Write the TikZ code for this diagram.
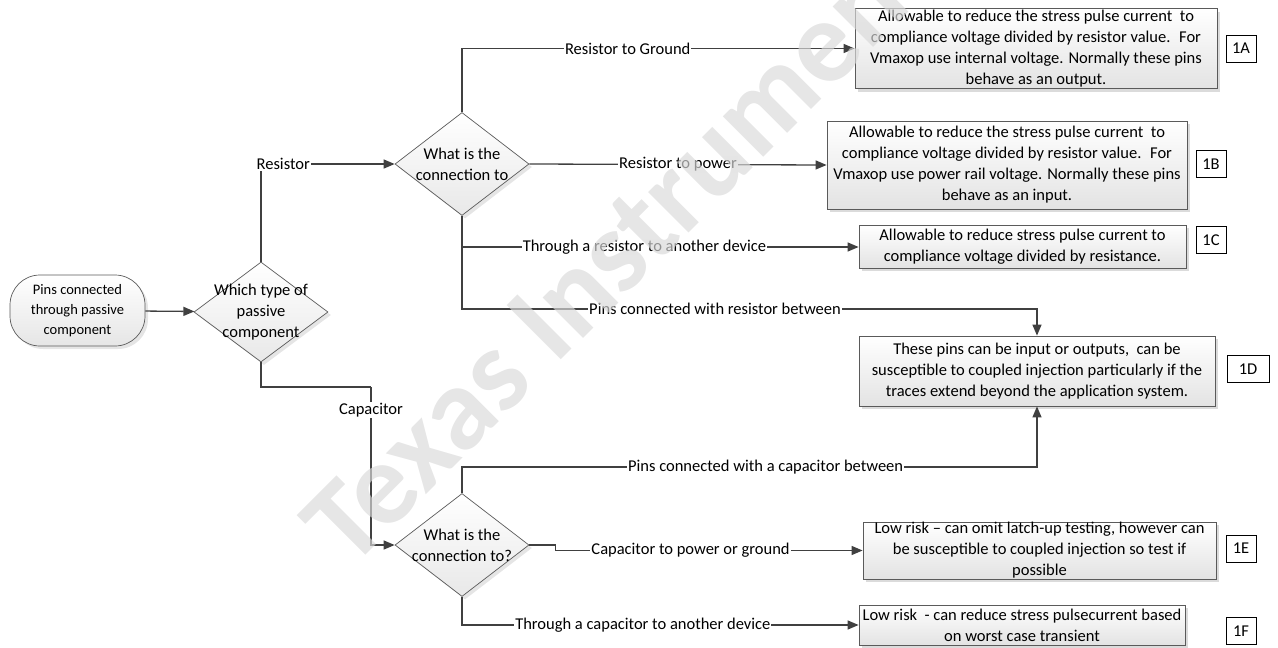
\documentclass[tikz,border=0pt]{standalone}
\usepackage{fontspec}
\setmainfont{Carlito}
\usepackage{tikz}
\usetikzlibrary{arrows.meta, positioning, shapes.geometric, shadows, calc}
\definecolor{linegray}{HTML}{404040}
\definecolor{edgegray}{HTML}{5A5A5A}

\begin{document}
\begin{tikzpicture}[x=1pt, y=-1pt,
    every node/.style={font=\fontsize{16.5}{21}\selectfont},
    note/.style={draw=edgegray, line width=0.8pt, top color=white, bottom color=black!11,
                 drop shadow={shadow xshift=3pt, shadow yshift=-3pt, fill=black!28},
                 align=center, inner sep=0pt},
    decide/.style={diamond, draw=edgegray, line width=0.7pt, top color=white, bottom color=black!9,
                 drop shadow={shadow xshift=3pt, shadow yshift=-3pt, fill=black!20},
                 inner sep=0pt, minimum width=134pt, minimum height=103pt},
    tag/.style={draw=black, line width=0.7pt, minimum width=30pt, minimum height=27pt, inner sep=0pt},
    arr/.style={draw=linegray, line width=1.3pt, -{Triangle[length=11pt, width=9pt]}},
    wire/.style={draw=linegray, line width=1.3pt},
    lab/.style={fill=white, inner sep=1pt},
]
    \useasboundingbox (0,0) rectangle (1278,648);

    % start and decisions
    \node[draw=edgegray, line width=0.7pt, rounded corners=30pt, top color=white, bottom color=black!10,
          drop shadow={shadow xshift=3pt, shadow yshift=-3pt, fill=black!20},
          minimum width=135pt, minimum height=71pt, align=center, inner sep=0pt,
          font=\fontsize{14.5}{20}\selectfont] (start) at (77.5, 310.5)
          {Pins connected\\through passive\\component};
    \node[decide, minimum height=100pt,
          label={[align=center, inner sep=0pt]center:Which type of\\passive\\component}] (d1) at (261, 312) {};
    \node[decide, label={[align=center, inner sep=0pt]center:What is the\\connection to}] (d2) at (462, 164) {};
    \node[decide, label={[align=center, inner sep=0pt]center:What is the\\connection to?}] (d3) at (462, 545) {};

    % outcome boxes
    \node[note, minimum width=362pt, minimum height=80pt] (b1A) at (1036, 48.5)
        {Allowable to reduce the stress pulse current \ to\\compliance voltage divided by resistor value. \ For\\Vmaxop use internal voltage. Normally these pins\\behave as an output.};
    \node[note, minimum width=360pt, minimum height=88pt] (b1B) at (1007, 165)
        {Allowable to reduce the stress pulse current \ to\\compliance voltage divided by resistor value. \ For\\Vmaxop use power rail voltage. Normally these pins\\behave as an input.};
    \node[note, minimum width=327pt, minimum height=43pt] (b1C) at (1022.5, 246.5)
        {Allowable to reduce stress pulse current to\\compliance voltage divided by resistance.};
    \node[note, minimum width=356pt, minimum height=70pt] (b1D) at (1037, 371)
        {These pins can be input or outputs, \ can be\\susceptible to coupled injection particularly if the\\traces extend beyond the application system.};
    \node[note, minimum width=353pt, minimum height=57pt] (b1E) at (1039.5, 550.5)
        {Low risk – can omit latch-up testing, however can\\be susceptible to coupled injection so test if\\possible};
    \node[note, minimum width=326pt, minimum height=40pt] (b1F) at (1022, 625)
        {Low risk \ - can reduce stress pulsecurrent based\\on worst case transient};

    % case tags
    \node[tag] (t1A) at (1241, 48.5) {1A};
    \node[tag] (t1B) at (1211, 164) {1B};
    \node[tag] (t1C) at (1211, 240) {1C};
    \node[tag, minimum width=42pt] (t1D) at (1248, 369) {1D};
    \node[tag] (t1E) at (1241, 548.5) {1E};
    \node[tag] (t1F) at (1241, 631) {1F};

    \coordinate (c1) at (371, 387);
    \coordinate (r3) at (462, 247);
    \coordinate (r4) at (1037, 309);
    \coordinate (c4) at (1037, 467);

    % connectors
    \draw[arr] (start) -- (d1);
    \draw[arr] (d1.north) |- (d2.west) node[lab, pos=0.5, anchor=west, xshift=-6pt] {Resistor};
    \draw[wire] (d1.south) |- (c1);
    \draw[arr] (c1) |- (d3.west) node[lab, pos=0.073] {Capacitor};

    \draw[arr] (d2.north) |- (b1A.west) node[lab, pos=0.711] {Resistor to Ground};
    \draw[arr] (d2.east) -- (b1B.west) node[lab, pos=0.5] {Resistor to power};
    \draw[arr] (r3) -- (r3 -| b1C.west) node[lab, pos=0.46] {Through a resistor to another device};
    \draw[arr] (d2.south) |- (r4) node[lab, pos=0.72] {Pins connected with resistor between} -- (b1D.north);

    \draw[arr] (d3.north) |- (c4) node[lab, pos=0.764] {Pins connected with a capacitor between} -- (b1D.south);
    \draw[arr] (d3.east) -- ++(26,0) |- (b1E.west) node[lab, pos=0.72] {Capacitor to power or ground};
    \draw[arr] (d3.south) |- (b1F.west) node[lab, pos=0.728] {Through a capacitor to another device};

    % watermark
    \node[rotate=45, text=black!15, opacity=0.67, font=\fontsize{118}{118}\selectfont\bfseries] (wm) at (636, 232)
        {Texas Instruments};
\end{tikzpicture}
\end{document}
